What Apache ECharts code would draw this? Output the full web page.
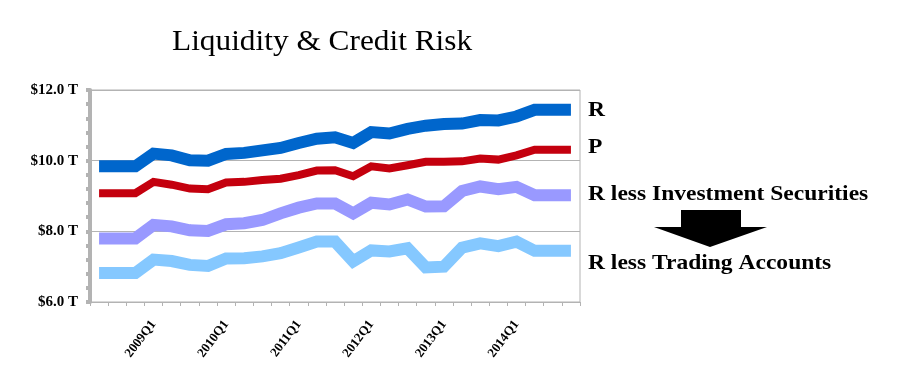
<!DOCTYPE html>
<html>
<head>
<meta charset="utf-8">
<script src="https://cdn.jsdelivr.net/npm/echarts@6/dist/echarts.min.js"></script>
<style>html,body{margin:0;padding:0;background:#fff}#c{width:901px;height:388px}</style>
</head>
<body>
<div id="c"></div>
<script>
const categories = ['2008Q2','2008Q3','2008Q4',
  '2009Q1','2009Q2','2009Q3','2009Q4',
  '2010Q1','2010Q2','2010Q3','2010Q4',
  '2011Q1','2011Q2','2011Q3','2011Q4',
  '2012Q1','2012Q2','2012Q3','2012Q4',
  '2013Q1','2013Q2','2013Q3','2013Q4',
  '2014Q1','2014Q2','2014Q3','2014Q4'];
const seriesR = [9.84,9.84,9.84,10.20,10.15,10.01,10.00,10.19,10.22,10.29,10.36,10.50,10.62,10.66,10.50,10.81,10.77,10.90,10.99,11.04,11.05,11.15,11.14,11.25,11.44,11.44,11.44];
const seriesP = [9.08,9.08,9.08,9.40,9.32,9.21,9.19,9.38,9.40,9.45,9.49,9.59,9.72,9.73,9.56,9.84,9.78,9.87,9.97,9.97,9.98,10.06,10.03,10.15,10.31,10.31,10.31];
const seriesRlessInv = [7.80,7.80,7.80,8.18,8.14,8.03,8.01,8.20,8.23,8.32,8.51,8.67,8.79,8.79,8.51,8.81,8.76,8.90,8.70,8.71,9.14,9.27,9.19,9.26,9.02,9.02,9.02];
const seriesRlessTrd = [6.82,6.82,6.82,7.20,7.16,7.05,7.02,7.23,7.24,7.29,7.38,7.54,7.71,7.71,7.15,7.46,7.43,7.52,6.98,7.00,7.54,7.66,7.58,7.71,7.45,7.45,7.45];
const seriesNames = ['R','P','R less Investment Securities','R less Trading Accounts'];
const yTicks = [6,8,10,12];
const titleText = 'Liquidity & Credit Risk';

const chart = echarts.init(document.getElementById('c'), null, {renderer:'canvas'});
const gray = '#B3B3B3';
const serif = '"Liberation Serif","Times New Roman",serif';
function mk(name, data, color, width, z){
  return {name, type:'line', data, symbol:'none', smooth:false, z,
    lineStyle:{color, width, cap:'butt', join:'miter'}, itemStyle:{color}, animation:false};
}
function label(text, x, y){
  return {type:'text', x, y, scaleX:1.12, style:{text, font:'bold 21px '+serif, fill:'#000'}};
}
chart.setOption({
  animation:false,
  backgroundColor:'#fff',
  grid:{left:90, right:321, top:90, bottom:86, show:true, borderColor:gray, borderWidth:1, backgroundColor:'transparent'},
  xAxis:{type:'category', data:categories, boundaryGap:true,
    axisLine:{lineStyle:{color:gray, width:1}},
    axisTick:{show:true, interval:0, length:4, lineStyle:{color:gray, width:1}},
    axisLabel:{interval:(i,v)=>v.endsWith('Q1'), rotate:53, margin:20,
      fontFamily:serif, fontWeight:'bold', fontSize:13, color:'#000'},
    splitLine:{show:false}},
  yAxis:{type:'value', min:yTicks[0], max:yTicks[yTicks.length-1], interval:2,
    axisLine:{show:true, lineStyle:{color:gray, width:4}},
    axisTick:{show:true, length:4, lineStyle:{color:gray, width:4}},
    minorTick:{show:true, splitNumber:5, length:4, lineStyle:{color:gray, width:4}},
    splitLine:{show:true, lineStyle:{color:gray, width:1}},
    axisLabel:{formatter:v=>'$'+v.toFixed(1)+' T', fontFamily:serif, fontWeight:'bold', fontSize:15, color:'#000', margin:12}},
  series:[
    mk(seriesNames[0], seriesR, '#0066CC', 12, 4),
    mk(seriesNames[1], seriesP, '#C4000E', 8, 3),
    mk(seriesNames[2], seriesRlessInv, '#9999FF', 12, 2),
    mk(seriesNames[3], seriesRlessTrd, '#85C8FF', 12, 1)
  ],
  graphic:[
    {type:'text', x:172, y:28, scaleX:1.08, style:{text:titleText, font:'29px '+serif, fill:'#000'}},
    label(seriesNames[0], 588, 100),
    label(seriesNames[1], 588, 137),
    label(seriesNames[2], 588, 184),
    label(seriesNames[3], 588, 253),
    {type:'polygon', shape:{points:[[681,210],[741,210],[741,227],[767,227],[710,247],[654,227],[681,227]]},
      style:{fill:'#000'}}
  ]
});
</script>
</body>
</html>
